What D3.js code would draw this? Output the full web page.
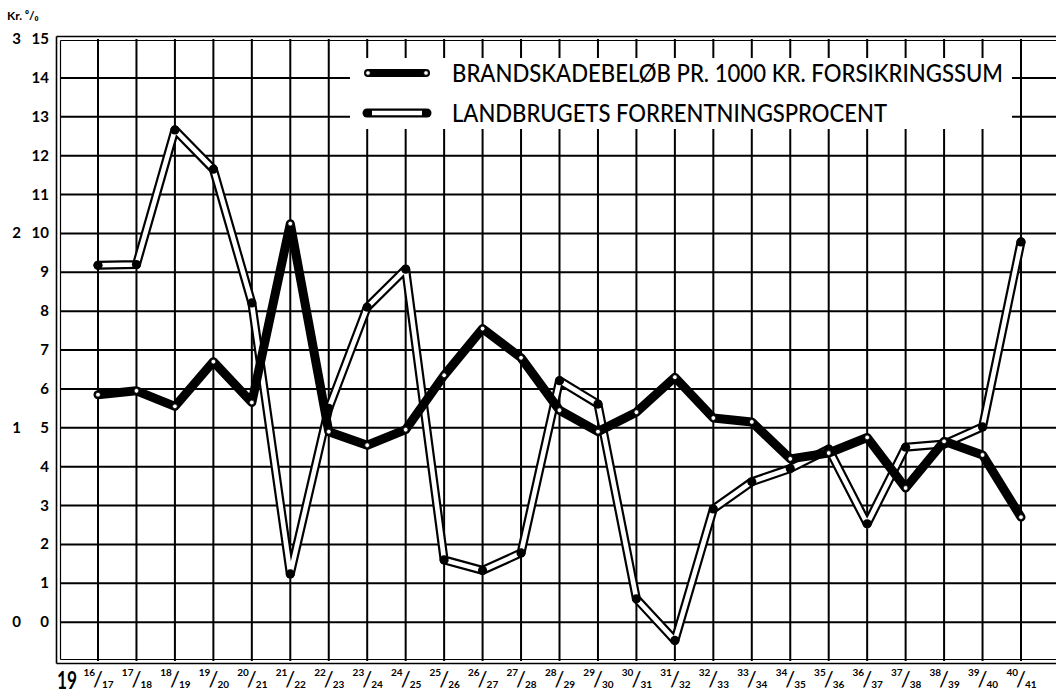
<!DOCTYPE html>
<html><head><meta charset="utf-8">
<script src="https://cdn.jsdelivr.net/npm/d3@7"></script>
<style>
html,body{margin:0;padding:0;background:#fff;}
svg{display:block;}
text{font-family:Lato,"Open Sans",sans-serif;fill:#000;}
</style></head>
<body>
<svg id="chart" width="1056" height="693"></svg>
<script>
// ---- data ----
const categories = ["16/17","17/18","18/19","19/20","20/21","21/22","22/23","23/24","24/25","25/26","26/27","27/28","28/29","29/30","30/31","31/32","32/33","33/34","34/35","35/36","36/37","37/38","38/39","39/40","40/41"];
// Brandskadebeløb pr. 1000 kr. forsikringssum (Kr.)
const brandKr = [1.17,1.19,1.11,1.34,1.13,2.05,0.98,0.91,0.99,1.27,1.51,1.36,1.09,0.98,1.08,1.26,1.05,1.03,0.84,0.87,0.95,0.69,0.93,0.86,0.54];
// Landbrugets forrentningsprocent (%)
const landPct = [9.18,9.20,12.66,11.65,8.21,1.24,5.5,8.1,9.08,1.6,1.33,1.78,6.21,5.61,0.6,-0.47,2.91,3.61,3.95,4.45,2.53,4.5,4.58,5.02,9.78];
const pctTicks = [0,1,2,3,4,5,6,7,8,9,10,11,12,13,14,15];
const krTicks = [0,1,2,3];
const legendLabels = ["BRANDSKADEBELØB PR. 1000 KR. FORSIKRINGSSUM","LANDBRUGETS FORRENTNINGSPROCENT"];

// ---- scales ----
const svg = d3.select("#chart");
const x = d3.scalePoint().domain(categories).range([98, 1021]);
const y = d3.scaleLinear().domain([-1, 15]).range([661, 39]);
const yKr = d3.scaleLinear().domain([-0.2, 3]).range([661, 39]);

const gGrid = svg.append("g");
gGrid.selectAll("line.h").data(pctTicks.slice(0, -1)).join("line")
  .attr("x1", 60).attr("x2", 1056)
  .attr("y1", d => y(d)).attr("y2", d => y(d))
  .attr("stroke", "#000").attr("stroke-width", 2);
gGrid.selectAll("line.v").data(categories).join("line")
  .attr("x1", d => x(d)).attr("x2", d => x(d))
  .attr("y1", y(15)).attr("y2", y(-1))
  .attr("stroke", "#000").attr("stroke-width", 2);

// frame (double lines)
const fr = svg.append("g").attr("stroke", "#000").attr("fill", "none");
[[-2.5, 1.6], [1.5, 1.2]].forEach(([o, w]) => {
  fr.append("line").attr("x1", 59 + o).attr("x2", 59 + o).attr("y1", y(15) + o).attr("y2", y(-1) - o).attr("stroke-width", w);
  fr.append("line").attr("x1", 59 + o).attr("x2", 1056).attr("y1", y(15) + o).attr("y2", y(15) + o).attr("stroke-width", w);
  fr.append("line").attr("x1", 59 + o).attr("x2", 1056).attr("y1", y(-1) - o).attr("y2", y(-1) - o).attr("stroke-width", w);
});

// ---- legend box ----
const lg = svg.append("g");
lg.append("rect").attr("x", 350).attr("y", 58).attr("width", 662).attr("height", 71).attr("fill", "#fff");
const lrow = [73, 113];
lg.append("line").attr("x1", 368).attr("x2", 426).attr("y1", lrow[0]).attr("y2", lrow[0])
  .attr("stroke", "#000").attr("stroke-width", 8).attr("stroke-linecap", "round");
[368, 426].forEach(cx => lg.append("circle").attr("cx", cx).attr("cy", lrow[0]).attr("r", 2.3)
  .attr("fill", "#fff").attr("stroke", "#000").attr("stroke-width", 0.8));
lg.append("line").attr("x1", 367).attr("x2", 427).attr("y1", lrow[1]).attr("y2", lrow[1])
  .attr("stroke", "#000").attr("stroke-width", 9).attr("stroke-linecap", "round");
lg.append("line").attr("x1", 372).attr("x2", 422).attr("y1", lrow[1]).attr("y2", lrow[1])
  .attr("stroke", "#fff").attr("stroke-width", 4.5);
lg.selectAll("text").data(legendLabels).join("text")
  .attr("x", 452).attr("y", (d, i) => lrow[i] + 9)
  .attr("font-size", 24).attr("font-weight", 500)
  .attr("textLength", (d, i) => i === 0 ? 551 : 435)
  .attr("lengthAdjust", "spacingAndGlyphs")
  .text(d => d);

// ---- series lines ----
const line = d3.line().x((d, i) => x(categories[i])).y(d => d);
const landY = landPct.map(v => y(v));
const brandY = brandKr.map(v => yKr(v));

const gs = svg.append("g");
gs.append("path").attr("d", line(landY)).attr("fill", "none")
  .attr("stroke", "#000").attr("stroke-width", 9).attr("stroke-linejoin", "round").attr("stroke-linecap", "round");
gs.append("path").attr("d", line(landY)).attr("fill", "none")
  .attr("stroke", "#fff").attr("stroke-width", 4.6).attr("stroke-linejoin", "miter");
gs.selectAll("circle.land").data(landPct).join("circle").attr("class", "land")
  .attr("cx", (d, i) => x(categories[i])).attr("cy", d => y(d)).attr("r", 4.6).attr("fill", "#000");

gs.append("path").attr("d", line(brandY)).attr("fill", "none")
  .attr("stroke", "#000").attr("stroke-width", 9).attr("stroke-linejoin", "round").attr("stroke-linecap", "round");
gs.selectAll("circle.brand").data(brandKr).join("circle").attr("class", "brand")
  .attr("cx", (d, i) => x(categories[i])).attr("cy", d => yKr(d)).attr("r", 2.4)
  .attr("fill", "#fff").attr("stroke", "#000").attr("stroke-width", 0.8);

// ---- axes labels ----
const ga = svg.append("g").attr("font-weight", 700).attr("font-size", 15);
ga.selectAll("text.p").data(pctTicks).join("text")
  .attr("x", 49).attr("y", d => y(d) + 5).attr("text-anchor", "end").text(d => d);
ga.selectAll("text.k").data(krTicks).join("text")
  .attr("x", 21).attr("y", d => yKr(d) + 5).attr("text-anchor", "end").text(d => d);
ga.append("text").attr("x", 7).attr("y", 20).attr("font-size", 12).text("Kr. ⁰/₀");

// x labels: "19" prefix + fractions
const gx = svg.append("g").attr("font-weight", 700);
gx.append("text").attr("x", 57).attr("y", 689).attr("font-size", 24)
  .attr("textLength", 20).attr("lengthAdjust", "spacingAndGlyphs").text("19");
const xg = gx.selectAll("g.x").data(categories).join("g")
  .attr("transform", d => `translate(${x(d)},0)`);
xg.append("text").attr("x", -3).attr("y", 676).attr("font-size", 10).attr("text-anchor", "end")
  .text(d => d.split("/")[0]);
xg.append("text").attr("x", 0).attr("y", 687).attr("font-size", 22).attr("font-weight", 400).attr("text-anchor", "middle")
  .text("/");
xg.append("text").attr("x", 4).attr("y", 688).attr("font-size", 10).attr("text-anchor", "start")
  .text(d => d.split("/")[1]);
</script>
</body></html>
